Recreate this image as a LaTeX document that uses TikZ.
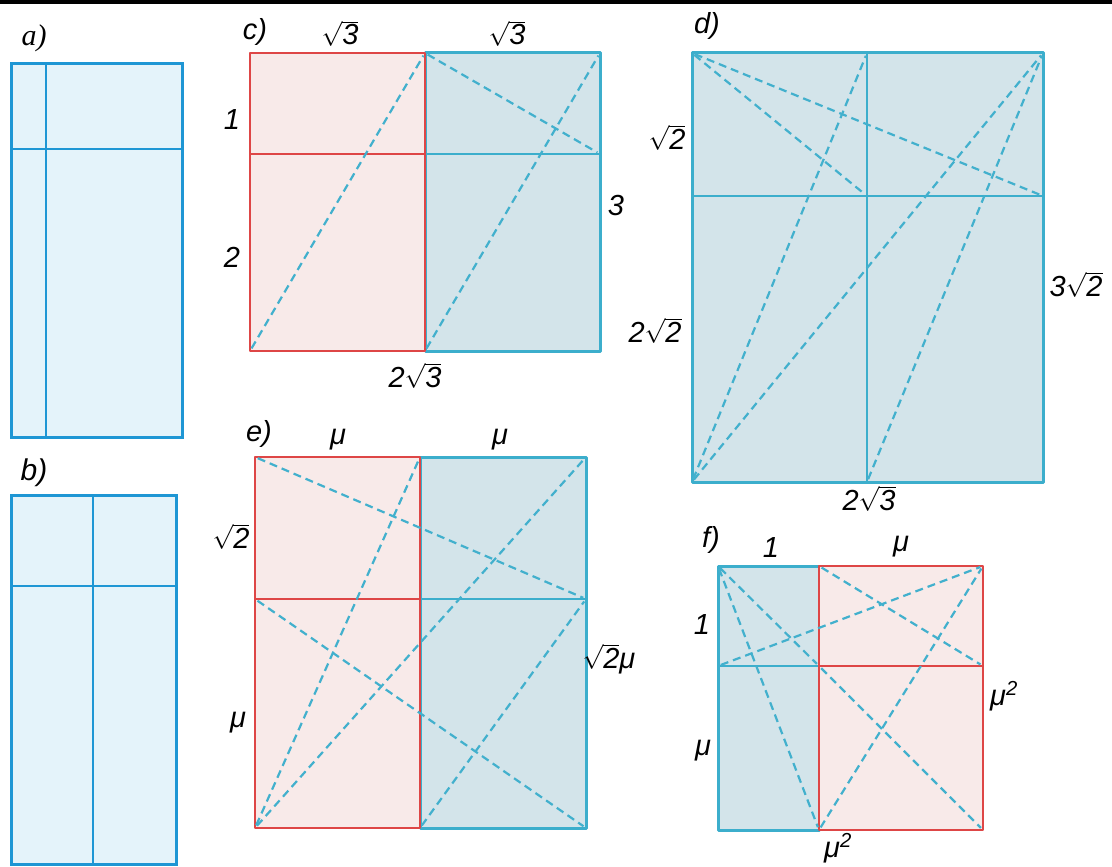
\documentclass[tikz,border=0pt]{standalone}
\usepackage{fontspec}
\setmainfont{Liberation Sans}
\newfontfamily\serifital{Liberation Serif}
\definecolor{abl}{RGB}{30,150,212}
\definecolor{afill}{RGB}{228,243,250}
\definecolor{tbl}{RGB}{60,174,204}
\definecolor{tfill}{RGB}{211,228,234}
\definecolor{rl}{RGB}{222,70,70}
\definecolor{rfill}{RGB}{248,234,233}
\definecolor{dsh}{RGB}{66,176,205}
\newcommand\rt[1]{$\sqrt{\hbox{#1}}$}
\tikzset{
  lbl/.style={font=\fontsize{29}{33}\selectfont\itshape, inner sep=0pt, anchor=base},
  ablbl/.style={font=\fontsize{30}{34}\selectfont\itshape, inner sep=0pt, anchor=base},
  abox/.style={draw=abl, line width=3pt, fill=afill},
  aline/.style={draw=abl, line width=2.4pt},
  tbox/.style={draw=tbl, line width=3pt, fill=tfill, line join=round},
  rbox/.style={draw=rl, line width=2.6pt, fill=rfill, line join=round},
  tline/.style={draw=tbl, line width=2.6pt},
  rline/.style={draw=rl, line width=2.6pt},
  dline/.style={draw=dsh, line width=2.2pt, dash pattern=on 8pt off 5pt, shorten <=3pt, shorten >=3pt},
}
\begin{document}
\begin{tikzpicture}[x=1pt,y=-1pt]
\useasboundingbox (0,0) rectangle (1112,867);
\fill[black] (0,0) rectangle (1112,4.5);

% ---- panel a
\draw[abox] (11,64) rectangle (182,437);
\coordinate (aT) at (46,64); \coordinate (aB) at (46,437);
\coordinate (aL) at (11,149); \coordinate (aR) at (182,149);
\draw[aline] (aT) -- (aB);
\draw[aline] (aL) -- (aR);
\node[ablbl] (la) at (34,46) {\serifital\itshape a)};

% ---- panel b
\draw[abox] (11,495) rectangle (176,864.5);
\coordinate (bT) at (93,495); \coordinate (bB) at (93,864.5);
\coordinate (bL) at (11,586); \coordinate (bR) at (176,586);
\draw[aline] (bT) -- (bB);
\draw[aline] (bL) -- (bR);
\node[ablbl] (lb) at (34,480) {b)};

% ---- panel c
\coordinate (cTL) at (250,53); \coordinate (cTM) at (425,53); \coordinate (cTR) at (600,53);
\coordinate (cML) at (250,154); \coordinate (cC) at (425,154); \coordinate (cMR) at (600,154);
\coordinate (cBL) at (250,351); \coordinate (cBM) at (425,351); \coordinate (cBR) at (600,351);
\draw[tbox] (cTM) rectangle (cBR);
\draw[tline] (cC) -- (cMR);
\draw[rbox] (cTL) rectangle (cBM);
\draw[rline] (cML) -- (cC);
\draw[dline] (cBL) -- (cTM);
\draw[dline] (cTM) -- (cMR);
\draw[dline] (cBM) -- (cTR);
\node[lbl] (lc) at (255,40) {c)};
\node[lbl] (c1) at (340,45) {\rt{3}};
\node[lbl] (c2) at (507,45) {\rt{3}};
\node[lbl] (c3) at (232,129) {1};
\node[lbl] (c4) at (232,267) {2};
\node[lbl] (c5) at (616,215) {3};
\node[lbl] (c6) at (415,387) {2\rt{3}};

% ---- panel d
\coordinate (dTL) at (692,53); \coordinate (dTM) at (867,53); \coordinate (dTR) at (1043,53);
\coordinate (dML) at (692,196); \coordinate (dC) at (867,196); \coordinate (dMR) at (1043,196);
\coordinate (dBL) at (692,482); \coordinate (dBM) at (867,482); \coordinate (dBR) at (1043,482);
\draw[tbox] (dTL) rectangle (dBR);
\draw[tline] (dTM) -- (dBM);
\draw[tline] (dML) -- (dMR);
\draw[dline] (dTL) -- (dMR);
\draw[dline] (dTL) -- (dC);
\draw[dline] (dBL) -- (dTM);
\draw[dline] (dBL) -- (dTR);
\draw[dline] (dBM) -- (dTR);
\node[lbl] (ld) at (707,34) {d)};
\node[lbl] (d1) at (667,149) {\rt{2}};
\node[lbl] (d2) at (655,342) {2\rt{2}};
\node[lbl] (d3) at (1076,296) {3\rt{2}};
\node[lbl] (d4) at (869,510) {2\rt{3}};

% ---- panel e
\coordinate (eTL) at (255,457); \coordinate (eTM) at (420,457); \coordinate (eTR) at (586,457);
\coordinate (eML) at (255,599); \coordinate (eC) at (420,599); \coordinate (eMR) at (586,599);
\coordinate (eBL) at (255,828); \coordinate (eBM) at (420,828); \coordinate (eBR) at (586,828);
\draw[tbox] (eTM) rectangle (eBR);
\draw[tline] (eC) -- (eMR);
\draw[rbox] (eTL) rectangle (eBM);
\draw[rline] (eML) -- (eC);
\draw[dline] (eTL) -- (eMR);
\draw[dline] (eBL) -- (eTM);
\draw[dline] (eBL) -- (eTR);
\draw[dline] (eML) -- (eBR);
\draw[dline] (eBM) -- (eMR);
\node[lbl] (le) at (259,441) {e)};
\node[lbl] (e1) at (338,444) {μ};
\node[lbl] (e2) at (500,444) {μ};
\node[lbl] (e3) at (231,548) {\rt{2}};
\node[lbl] (e4) at (238,727) {μ};
\node[lbl] (e5) at (609,668) {\rt{2}μ};

% ---- panel f
\coordinate (fTL) at (718,566); \coordinate (fTM) at (819,566); \coordinate (fTR) at (983,566);
\coordinate (fML) at (718,666); \coordinate (fC) at (819,666); \coordinate (fMR) at (983,666);
\coordinate (fBL) at (718,830); \coordinate (fBM) at (819,830); \coordinate (fBR) at (983,830);
\draw[tbox] (fTL) rectangle (fBM);
\draw[tline] (fML) -- (fC);
\draw[rbox] (fTM) rectangle (fBR);
\draw[rline] (fC) -- (fMR);
\draw[dline] (fTL) -- (fC);
\draw[dline] (fTL) -- (fBM);
\draw[dline] (fML) -- (fTR);
\draw[dline] (fTM) -- (fMR);
\draw[dline] (fBM) -- (fTR);
\draw[dline] (fC) -- (fBR);
\node[lbl] (lf) at (711,547) {f)};
\node[lbl] (f1) at (771,557) {1};
\node[lbl] (f2) at (901,551) {μ};
\node[lbl] (f3) at (702,634) {1};
\node[lbl] (f4) at (703,755) {μ};
\node[lbl] (f5) at (1004,705) {μ\textsuperscript{2}};
\node[lbl] (f6) at (838,857) {μ\textsuperscript{2}};
\end{tikzpicture}
\end{document}
